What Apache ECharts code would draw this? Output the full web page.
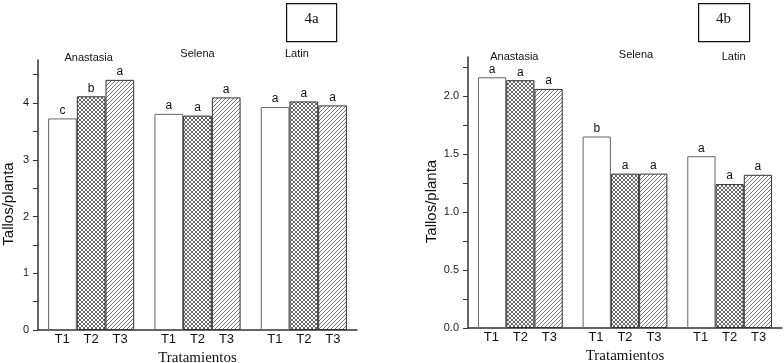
<!DOCTYPE html>
<html>
<head>
<meta charset="utf-8">
<script src="https://cdn.jsdelivr.net/npm/echarts@6/dist/echarts.min.js"></script>
<style>
  html, body { margin: 0; padding: 0; background: #fff; }
  #chart { width: 784px; height: 363px; }
</style>
</head>
<body>
<div id="chart"></div>
<script>
// groups and treatments
const groups = ['Anastasia', 'Selena', 'Latin'];
const treatments = ['T1', 'T2', 'T3'];

// 4a: tallos/planta per group
const a_T1 = [3.73, 3.81, 3.93];
const a_T2 = [4.12, 3.78, 4.03];
const a_T3 = [4.41, 4.10, 3.96];
const a_T1_letters = ['c', 'a', 'a'];
const a_T2_letters = ['b', 'a', 'a'];
const a_T3_letters = ['a', 'a', 'a'];

// 4b
const b_T1 = [2.16, 1.65, 1.48];
const b_T2 = [2.135, 1.33, 1.24];
const b_T3 = [2.06, 1.33, 1.32];
const b_T1_letters = ['a', 'b', 'a'];
const b_T2_letters = ['a', 'a', 'a'];
const b_T3_letters = ['a', 'a', 'a'];

// tick values
const a_ticks = [0, 0.5, 1, 1.5, 2, 2.5, 3, 3.5, 4, 4.5];
const a_labels = [0, 1, 2, 3, 4];
const b_ticks = [0, 0.25, 0.5, 0.75, 1, 1.25, 1.5, 1.75, 2, 2.25];
const b_labels = [0, 0.5, 1, 1.5, 2];

// fill patterns
function crossHatch() {
  const c = document.createElement('canvas');
  c.width = 4; c.height = 4;
  const ctx = c.getContext('2d');
  ctx.fillStyle = '#fff';
  ctx.fillRect(0, 0, 4, 4);
  ctx.strokeStyle = '#666';
  ctx.lineWidth = 1;
  ctx.beginPath();
  ctx.moveTo(0, 0); ctx.lineTo(4, 4);
  ctx.moveTo(0, 4); ctx.lineTo(4, 0);
  ctx.stroke();
  return c;
}
function diagHatch() {
  const c = document.createElement('canvas');
  c.width = 4; c.height = 4;
  const ctx = c.getContext('2d');
  ctx.fillStyle = '#fff';
  ctx.fillRect(0, 0, 4, 4);
  ctx.strokeStyle = '#777';
  ctx.lineWidth = 1;
  ctx.beginPath();
  ctx.moveTo(-1, 5); ctx.lineTo(5, -1);
  ctx.moveTo(-1, 1); ctx.lineTo(1, -1);
  ctx.moveTo(3, 5); ctx.lineTo(5, 3);
  ctx.stroke();
  return c;
}
const fills = [
  '#fff',
  { image: crossHatch(), repeat: 'repeat' },
  { image: diagHatch(), repeat: 'repeat' }
];

const sans = 'Liberation Sans, Arial, sans-serif';
const serif = 'Liberation Serif, Times New Roman, serif';

function yAxis(idx, max, ticks, labels, fmt) {
  return {
    type: 'value', gridIndex: idx, min: 0, max: max,
    name: 'Tallos/planta', nameLocation: 'middle', nameGap: 22,
    nameTextStyle: { fontFamily: sans, fontSize: 15, color: '#111', padding: [0, 18, 0, 0] },
    axisLine: { show: true, lineStyle: { color: '#333', width: 1.5 } },
    axisTick: { show: true, length: 5, customValues: ticks, lineStyle: { color: '#333' } },
    axisLabel: { customValues: labels, margin: 9, fontFamily: sans, fontSize: 11, color: '#222', formatter: fmt },
    splitLine: { show: false }
  };
}

function bottomAxis(idx) {
  const lbl = { width: 29, align: 'center', fontFamily: sans, fontSize: 13, color: '#111' };
  return {
    type: 'category', gridIndex: idx, data: groups,
    name: 'Tratamientos', nameLocation: 'middle', nameGap: 19,
    nameTextStyle: { fontFamily: serif, fontSize: 15, color: '#111' },
    axisLine: { lineStyle: { color: '#333', width: 1.5 } },
    axisTick: { length: 4, lineStyle: { color: '#333' } },
    axisLabel: {
      margin: 3, interval: 0,
      formatter: () => '{t1|T1}{t2|T2}{t3|T3}',
      rich: { t1: lbl, t2: lbl, t3: lbl }
    }
  };
}

function topAxis(idx, margin, pads) {
  const rich = {};
  pads.forEach((p, i) => {
    rich['g' + i] = { fontFamily: sans, fontSize: 11, color: '#111', padding: p };
  });
  return {
    type: 'category', gridIndex: idx, data: groups, position: 'top',
    axisLine: { show: false }, axisTick: { show: false },
    axisLabel: { margin: margin, interval: 0, formatter: (v, i) => '{g' + i + '|' + v + '}', rich: rich }
  };
}

function barSeries(idx, values, letters, t) {
  return {
    type: 'bar', name: treatments[t], xAxisIndex: idx * 2, yAxisIndex: idx,
    data: values, barGap: 0, barCategoryGap: '19%',
    itemStyle: { color: fills[t], borderColor: t === 0 ? '#666' : '#333', borderWidth: 1 },
    label: {
      show: true, position: 'top', distance: 2,
      fontFamily: sans, fontSize: 12, color: '#111',
      formatter: p => letters[p.dataIndex]
    }
  };
}

const myChart = echarts.init(document.getElementById('chart'));

let option = {
  backgroundColor: '#fff',
  animation: false,
  grid: [
    { left: 38, right: 427, top: 60, bottom: 33, outerBoundsMode: 'none' },
    { left: 468, right: 2, top: 57, bottom: 35, outerBoundsMode: 'none' }
  ],
  xAxis: [
    bottomAxis(0),
    topAxis(0, -3, [[0, 5, 0, 0], [0, 0, 4, 0], [0, 14, 4, 0]]),
    bottomAxis(1),
    topAxis(1, -5, [[0, 12, 0, 0], [0, 0, 2, 22], [0, 0, 0, 8]])
  ],
  yAxis: [
    yAxis(0, 4.76, a_ticks, a_labels, v => String(v)),
    yAxis(1, 2.335, b_ticks, b_labels, v => Number(v).toFixed(1))
  ],
  series: [
    barSeries(0, a_T1, a_T1_letters, 0),
    barSeries(0, a_T2, a_T2_letters, 1),
    barSeries(0, a_T3, a_T3_letters, 2),
    barSeries(1, b_T1, b_T1_letters, 0),
    barSeries(1, b_T2, b_T2_letters, 1),
    barSeries(1, b_T3, b_T3_letters, 2)
  ],
  graphic: [
    {
      type: 'group', left: 286, top: 3,
      children: [
        { type: 'rect', shape: { x: 0, y: 0, width: 50, height: 38 }, style: { fill: '#fff', stroke: '#111', lineWidth: 1.2 } },
        { type: 'text', x: 25, y: 15, style: { text: '4a', font: '15px ' + serif, fill: '#111', align: 'center', verticalAlign: 'middle' } }
      ]
    },
    {
      type: 'group', left: 698, top: 3,
      children: [
        { type: 'rect', shape: { x: 0, y: 0, width: 51, height: 38 }, style: { fill: '#fff', stroke: '#111', lineWidth: 1.2 } },
        { type: 'text', x: 25, y: 15, style: { text: '4b', font: '15px ' + serif, fill: '#111', align: 'center', verticalAlign: 'middle' } }
      ]
    }
  ]
};

myChart.setOption(option);
</script>
</body>
</html>
